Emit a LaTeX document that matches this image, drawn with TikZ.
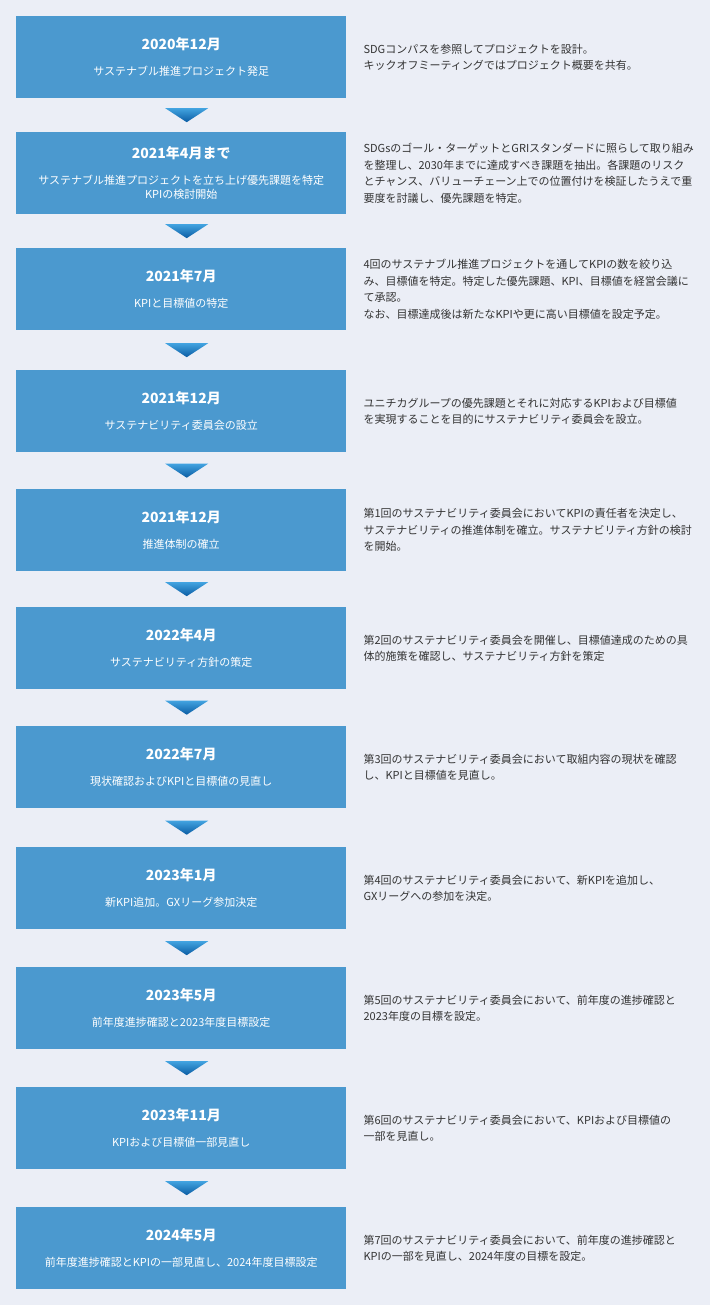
\documentclass[tikz,border=0pt]{standalone}
\usepackage{fontspec}
\setmainfont{Noto Sans CJK JP}
\usetikzlibrary{calc}
\definecolor{bg}{HTML}{EBEEF6}
\definecolor{boxblue}{HTML}{4B99CF}
\definecolor{tritop}{HTML}{42A3E0}
\definecolor{tribot}{HTML}{0A5CA3}
\definecolor{desccol}{HTML}{333333}
\tikzset{
  stepbox/.style={fill=boxblue, draw=none, minimum width=330pt, minimum height=82pt, anchor=north west, inner sep=0pt},
  steptext/.style={text=white, align=center, font=\fontsize{11}{14}\selectfont, inner sep=0pt},
  desctext/.style={text=desccol, align=left, anchor=west, font=\fontsize{11}{16.5}\selectfont, inner sep=0pt},
  downtri/.style={top color=tritop, bottom color=tribot, draw=none}
}
\newcommand\steptitle[1]{{\fontsize{14}{14}\selectfont\bfseries #1}\\[12pt]}
\newcommand\stepitem[5]{%
  \node[stepbox] (b#1) at (16pt,-#2pt) {};
  \node[steptext] (t#1) at (b#1.center) {\steptitle{#3}#4};
  \node[desctext] (d#1) at ($(b#1.east)+(17pt,0)$) {#5};
}
\begin{document}
\begin{tikzpicture}
\fill[bg] (0,0) rectangle (710pt,-1305pt);
\useasboundingbox (0,0) rectangle (710pt,-1305pt);

\stepitem{1}{16}{2020年12月}{サステナブル推進プロジェクト発足}
{SDGコンパスを参照してプロジェクトを設計。\\キックオフミーティングではプロジェクト概要を共有。}

\stepitem{2}{132}{2021年4月まで}{サステナブル推進プロジェクトを立ち上げ優先課題を特定\\KPIの検討開始}
{SDGsのゴール・ターゲットとGRIスタンダードに照らして取り組み\\を整理し、2030年までに達成すべき課題を抽出。各課題のリスク\\とチャンス、バリューチェーン上での位置付けを検証したうえで重\\要度を討議し、優先課題を特定。}

\stepitem{3}{248}{2021年7月}{KPIと目標値の特定}
{4回のサステナブル推進プロジェクトを通してKPIの数を絞り込\\み、目標値を特定。特定した優先課題、KPI、目標値を経営会議に\\て承認。\\なお、目標達成後は新たなKPIや更に高い目標値を設定予定。}

\stepitem{4}{370}{2021年12月}{サステナビリティ委員会の設立}
{ユニチカグループの優先課題とそれに対応するKPIおよび目標値\\を実現することを目的にサステナビリティ委員会を設立。}

\stepitem{5}{489}{2021年12月}{推進体制の確立}
{第1回のサステナビリティ委員会においてKPIの責任者を決定し、\\サステナビリティの推進体制を確立。サステナビリティ方針の検討\\を開始。}

\stepitem{6}{607}{2022年4月}{サステナビリティ方針の策定}
{第2回のサステナビリティ委員会を開催し、目標値達成のための具\\体的施策を確認し、サステナビリティ方針を策定}

\stepitem{7}{726}{2022年7月}{現状確認およびKPIと目標値の見直し}
{第3回のサステナビリティ委員会において取組内容の現状を確認\\し、KPIと目標値を見直し。}

\stepitem{8}{847}{2023年1月}{新KPI追加。GXリーグ参加決定}
{第4回のサステナビリティ委員会において、新KPIを追加し、\\GXリーグへの参加を決定。}

\stepitem{9}{967}{2023年5月}{前年度進捗確認と2023年度目標設定}
{第5回のサステナビリティ委員会において、前年度の進捗確認と\\2023年度の目標を設定。}

\stepitem{10}{1087}{2023年11月}{KPIおよび目標値一部見直し}
{第6回のサステナビリティ委員会において、KPIおよび目標値の\\一部を見直し。}

\stepitem{11}{1207}{2024年5月}{前年度進捗確認とKPIの一部見直し、2024年度目標設定}
{第7回のサステナビリティ委員会において、前年度の進捗確認と\\KPIの一部を見直し、2024年度の目標を設定。}

\foreach \i/\j in {1/2,2/3,3/4,4/5,5/6,6/7,7/8,8/9,9/10,10/11}{
  \coordinate (m\i) at ($(b\i.south)!0.5!(b\j.north)+(5.5pt,0)$);
  \shade[downtri] ($(m\i)+(-21.5pt,7pt)$) -- ($(m\i)+(21.5pt,7pt)$) -- ($(m\i)+(0,-7pt)$) -- cycle;
}
\end{tikzpicture}
\end{document}
